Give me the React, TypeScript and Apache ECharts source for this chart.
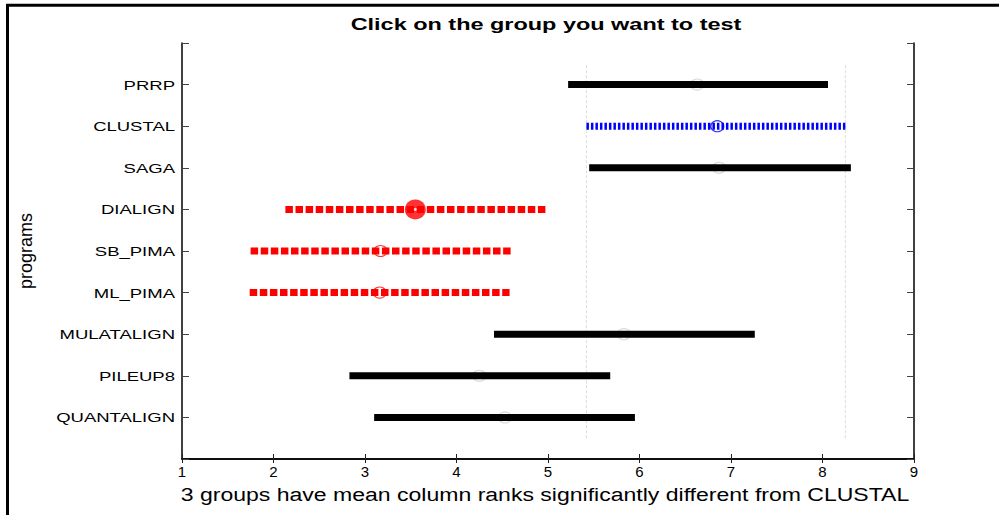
import React, { useEffect, useRef } from "react";
import * as echarts from "echarts";

// Groups from bottom (y = 1) to top (y = 9)
const categories = ["QUANTALIGN", "PILEUP8", "MULATALIGN", "ML_PIMA", "SB_PIMA", "DIALIGN", "SAGA", "CLUSTAL", "PRRP"];
const lowerBounds = [3.10, 2.83, 4.41, 1.74, 1.75, 2.13, 5.45, 5.42, 5.22];
const means = [4.53, 4.25, 5.83, 3.16, 3.17, 3.55, 6.87, 6.85, 6.63];
const upperBounds = [5.95, 5.68, 7.26, 4.58, 4.60, 4.98, 8.31, 8.25, 8.06];
const xTicks = [1, 2, 3, 4, 5, 6, 7, 8, 9];
const controlGroup = "CLUSTAL";
const selectedGroup = "DIALIGN";
const significantGroups = ["DIALIGN", "SB_PIMA", "ML_PIMA"];

const titleText = "Click on the group you want to test";
const xLabelText = "3 groups have mean column ranks significantly different from CLUSTAL";
const yLabelText = "programs";

const FONT = "'Liberation Sans', Arial, sans-serif";

export default function App() {
  const ref = useRef<HTMLDivElement>(null);
  useEffect(() => {
    if (!ref.current) return;
    const chart = echarts.init(ref.current, undefined, { renderer: "svg" });
    const series: any[] = [];
    const ctrlIdx = categories.indexOf(controlGroup);

    // reference vertical lines at control interval bounds
    [lowerBounds[ctrlIdx], upperBounds[ctrlIdx]].forEach((v) => {
      series.push({
        type: "line",
        data: [[v, 0.5], [v, categories.length + 0.5]],
        showSymbol: false,
        silent: true,
        lineStyle: { color: "#dcdcdc", width: 1, type: [3, 2] },
        z: 1,
      });
    });

    categories.forEach((name, i) => {
      const y = i + 1;
      const isCtrl = name === controlGroup;
      const isSig = significantGroups.indexOf(name) >= 0;
      const color = isCtrl ? "#0000ff" : isSig ? "#ff0000" : "#000000";
      const dash: any = isCtrl ? [2.5, 2] : isSig ? [7.5, 2.6] : "solid";
      series.push({
        type: "line",
        name,
        data: [[lowerBounds[i], y], [upperBounds[i], y]],
        showSymbol: false,
        lineStyle: { color, width: 7, type: dash, cap: "butt" },
        z: 3,
      });
      const selected = name === selectedGroup;
      const plain = !isCtrl && !isSig;
      series.push({
        type: "scatter",
        data: [[means[i], y]],
        symbol: "circle",
        symbolSize: selected ? [21, 20] : [13, 11],
        itemStyle: selected
          ? { color: "#ff0000" }
          : { color: "rgba(0,0,0,0)", borderColor: isCtrl ? "#0000ff" : isSig ? "#ff0000" : "#cfcfcf", borderWidth: 1.2 },
        z: plain ? 2 : 4,
      });
      if (selected) {
        series.push({
          type: "scatter",
          data: [[means[i], y]],
          symbol: "circle",
          symbolSize: 3,
          itemStyle: { color: "#ffffff" },
          z: 5,
        });
      }
    });

    const baseGraphic: any[] = [
      { type: "line", shape: { x1: 6, y1: 5.3, x2: 999, y2: 5.3 }, style: { stroke: "#000", lineWidth: 3 } },
      { type: "line", shape: { x1: 7.5, y1: 4, x2: 7.5, y2: 515 }, style: { stroke: "#000", lineWidth: 3 } },
      {
        type: "text",
        x: 546,
        y: 24,
        scaleX: 1.38,
        style: { text: titleText, fill: "#000", font: `bold 17px ${FONT}`, textAlign: "center", textVerticalAlign: "middle" },
      },
      {
        type: "text",
        x: 545,
        y: 494,
        scaleX: 1.28,
        style: { text: xLabelText, fill: "#000", font: `18px ${FONT}`, textAlign: "center", textVerticalAlign: "middle" },
      },
      {
        type: "text",
        x: 26,
        y: 251,
        rotation: Math.PI / 2,
        style: { text: yLabelText, fill: "#000", font: `18px ${FONT}`, textAlign: "center", textVerticalAlign: "middle" },
      },
    ];

    chart.setOption({
      animation: false,
      backgroundColor: "#ffffff",
      grid: { left: 182, right: 85, top: 43, bottom: 56, containLabel: false },
      xAxis: [
        {
          type: "value",
          position: "bottom",
          min: xTicks[0],
          max: xTicks[xTicks.length - 1],
          interval: 1,
          axisLine: { show: true, lineStyle: { color: "#000", width: 1.5 } },
          axisTick: { show: true, inside: true, length: 5, lineStyle: { color: "#222" } },
          axisLabel: { color: "#000", fontSize: 15, fontFamily: FONT, margin: 5 },
          splitLine: { show: false },
        },
        {
          type: "value",
          position: "top",
          min: xTicks[0],
          max: xTicks[xTicks.length - 1],
          interval: 1,
          axisLine: { show: true, lineStyle: { color: "#000", width: 1.5 } },
          axisTick: { show: true, inside: true, length: 4, lineStyle: { color: "#222" } },
          axisLabel: { show: false },
          splitLine: { show: false },
        },
      ],
      yAxis: [
        {
          type: "value",
          position: "left",
          min: 0,
          max: categories.length + 1,
          interval: 1,
          axisLine: { show: true, lineStyle: { color: "#000", width: 1.5 } },
          axisTick: { show: true, inside: true, length: 7, lineStyle: { color: "#444" } },
          axisLabel: { show: false },
          splitLine: { show: false },
        },
        {
          type: "value",
          position: "right",
          min: 0,
          max: categories.length + 1,
          interval: 1,
          axisLine: { show: true, lineStyle: { color: "#000", width: 1.5 } },
          axisTick: { show: true, inside: true, length: 7, lineStyle: { color: "#444" } },
          axisLabel: { show: false },
          splitLine: { show: false },
        },
      ],
      graphic: baseGraphic,
      series,
    });

    // category labels placed through the y axis scale, horizontally stretched like the reference
    const labelGraphic = categories.map((name, i) => {
      const py = chart.convertToPixel({ yAxisIndex: 0 }, i + 1) as number;
      return {
        type: "text",
        x: 175,
        y: py,
        scaleX: 1.37,
        style: { text: name, fill: "#000", font: `13.5px ${FONT}`, textAlign: "right", textVerticalAlign: "middle" },
      };
    });
    chart.setOption({ graphic: [...baseGraphic, ...labelGraphic] });

    return () => chart.dispose();
  }, []);
  return <div ref={ref} style={{ position: "fixed", left: 0, top: 0, width: 999, height: 515 }} />;
}
